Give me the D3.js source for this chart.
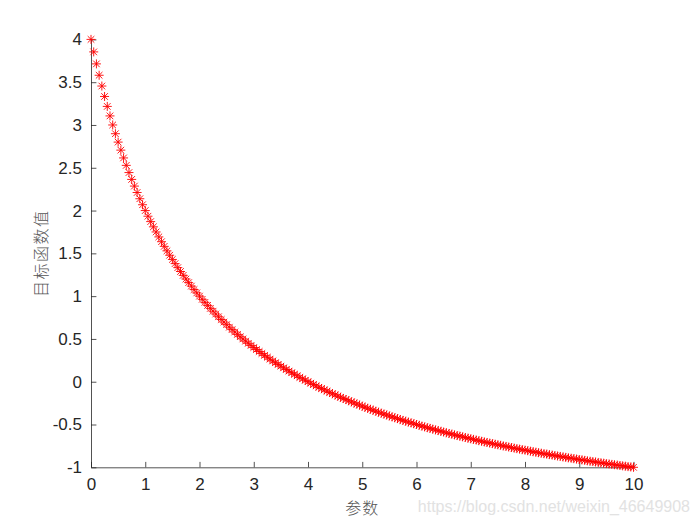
<!DOCTYPE html>
<html>
<head>
<meta charset="utf-8">
<script src="https://cdn.jsdelivr.net/npm/d3@7"></script>
<style>
  body { margin: 0; background: #fff; }
  .canvas svg { display: block; }
</style>
</head>
<body>
<div class="canvas"></div>
<script>
// data: parameter grid and objective values.
const xValues = [
  0, 0.05, 0.1, 0.15, 0.2, 0.25, 0.3, 0.35, 0.4, 0.45, 0.5, 0.55, 0.6, 0.65, 0.7, 0.75, 0.8, 0.85, 0.9, 0.95,
  1, 1.05, 1.1, 1.15, 1.2, 1.25, 1.3, 1.35, 1.4, 1.45, 1.5, 1.55, 1.6, 1.65, 1.7, 1.75, 1.8, 1.85, 1.9, 1.95,
  2, 2.05, 2.1, 2.15, 2.2, 2.25, 2.3, 2.35, 2.4, 2.45, 2.5, 2.55, 2.6, 2.65, 2.7, 2.75, 2.8, 2.85, 2.9, 2.95,
  3, 3.05, 3.1, 3.15, 3.2, 3.25, 3.3, 3.35, 3.4, 3.45, 3.5, 3.55, 3.6, 3.65, 3.7, 3.75, 3.8, 3.85, 3.9, 3.95,
  4, 4.05, 4.1, 4.15, 4.2, 4.25, 4.3, 4.35, 4.4, 4.45, 4.5, 4.55, 4.6, 4.65, 4.7, 4.75, 4.8, 4.85, 4.9, 4.95,
  5, 5.05, 5.1, 5.15, 5.2, 5.25, 5.3, 5.35, 5.4, 5.45, 5.5, 5.55, 5.6, 5.65, 5.7, 5.75, 5.8, 5.85, 5.9, 5.95,
  6, 6.05, 6.1, 6.15, 6.2, 6.25, 6.3, 6.35, 6.4, 6.45, 6.5, 6.55, 6.6, 6.65, 6.7, 6.75, 6.8, 6.85, 6.9, 6.95,
  7, 7.05, 7.1, 7.15, 7.2, 7.25, 7.3, 7.35, 7.4, 7.45, 7.5, 7.55, 7.6, 7.65, 7.7, 7.75, 7.8, 7.85, 7.9, 7.95,
  8, 8.05, 8.1, 8.15, 8.2, 8.25, 8.3, 8.35, 8.4, 8.45, 8.5, 8.55, 8.6, 8.65, 8.7, 8.75, 8.8, 8.85, 8.9, 8.95,
  9, 9.05, 9.1, 9.15, 9.2, 9.25, 9.3, 9.35, 9.4, 9.45, 9.5, 9.55, 9.6, 9.65, 9.7, 9.75, 9.8, 9.85, 9.9, 9.95,
  10
];
const yValues = [
  4, 3.854, 3.714, 3.581, 3.455, 3.333, 3.217, 3.106, 3, 2.898, 2.8, 2.706, 2.615, 2.528, 2.444, 2.364, 2.286, 2.211, 2.138, 2.068,
  2, 1.934, 1.871, 1.810, 1.75, 1.692, 1.636, 1.582, 1.529, 1.478, 1.429, 1.380, 1.333, 1.288, 1.243, 1.2, 1.158, 1.117, 1.077, 1.038,
  1, 0.963, 0.927, 0.892, 0.857, 0.824, 0.791, 0.759, 0.727, 0.697, 0.667, 0.637, 0.609, 0.581, 0.553, 0.526, 0.5, 0.474, 0.449, 0.424,
  0.4, 0.376, 0.353, 0.330, 0.308, 0.286, 0.264, 0.243, 0.222, 0.202, 0.182, 0.162, 0.143, 0.124, 0.105, 0.087, 0.069, 0.051, 0.034, 0.017,
  0, -0.017, -0.033, -0.049, -0.065, -0.08, -0.095, -0.110, -0.125, -0.140, -0.154, -0.168, -0.182, -0.195, -0.209, -0.222, -0.235, -0.248, -0.261, -0.273,
  -0.286, -0.298, -0.310, -0.322, -0.333, -0.345, -0.356, -0.367, -0.378, -0.389, -0.4, -0.411, -0.421, -0.431, -0.442, -0.452, -0.462, -0.471, -0.481, -0.491,
  -0.5, -0.509, -0.519, -0.528, -0.537, -0.545, -0.554, -0.563, -0.571, -0.580, -0.588, -0.596, -0.605, -0.613, -0.621, -0.629, -0.636, -0.644, -0.652, -0.659,
  -0.667, -0.674, -0.681, -0.689, -0.696, -0.703, -0.710, -0.717, -0.723, -0.730, -0.737, -0.743, -0.75, -0.756, -0.763, -0.769, -0.776, -0.782, -0.788, -0.794,
  -0.8, -0.806, -0.812, -0.818, -0.824, -0.829, -0.835, -0.841, -0.846, -0.852, -0.857, -0.863, -0.868, -0.873, -0.879, -0.884, -0.889, -0.894, -0.899, -0.904,
  -0.909, -0.914, -0.919, -0.924, -0.929, -0.933, -0.938, -0.943, -0.947, -0.952, -0.957, -0.961, -0.966, -0.970, -0.974, -0.979, -0.983, -0.987, -0.992, -0.996,
  -1
];
const xTicks = [0, 1, 2, 3, 4, 5, 6, 7, 8, 9, 10];
const yTicks = [-1, -0.5, 0, 0.5, 1, 1.5, 2, 2.5, 3, 3.5, 4];
const xLabel = '参数';
const yLabel = '目标函数值';
const watermark = 'https://blog.csdn.net/weixin_46649908';

// dimensions and margins (matlab default axes position).
const svgDimensions = { width: 700, height: 525 };
const margin = { left: 91, right: 66.5, top: 39.4, bottom: 57.7 };
const graphWidth = svgDimensions.width - margin.left - margin.right;
const graphHeight = svgDimensions.height - margin.top - margin.bottom;
const axisColor = '#262626';
const font = 'Arial, "Liberation Sans", Helvetica, sans-serif';

const svg = d3.select('.canvas')
    .append('svg')
        .attr('width', svgDimensions.width)
        .attr('height', svgDimensions.height);

const graph = svg.append('g')
    .attr('transform', `translate(${margin.left},${margin.top})`);

const x = d3.scaleLinear().domain([0, 10]).range([0, graphWidth]);
const y = d3.scaleLinear().domain([-1, 4]).range([graphHeight, 0]);

// plain hyphen for negatives, like matlab.
const tickFmt = v => String(v);

// axes with inward ticks, no box.
const xAxis = d3.axisBottom(x).tickValues(xTicks).tickSizeInner(-5.4).tickSizeOuter(0).tickPadding(11)
    .tickFormat(tickFmt);
const yAxis = d3.axisLeft(y).tickValues(yTicks).tickSizeInner(-5.4).tickSizeOuter(0).tickPadding(9)
    .tickFormat(tickFmt);

const xAxisGroup = graph.append('g')
    .attr('transform', `translate(0,${graphHeight})`)
    .call(xAxis);
const yAxisGroup = graph.append('g').call(yAxis);

[xAxisGroup, yAxisGroup].forEach(g => {
    g.select('.domain').attr('stroke', axisColor).attr('stroke-width', 0.8);
    g.selectAll('.tick line').attr('stroke', axisColor).attr('stroke-width', 0.8);
    g.selectAll('.tick text')
        .attr('fill', axisColor)
        .style('font-family', font)
        .style('font-size', '17px');
});

// asterisk marker: plus and cross together.
const r = 4.5, d = 3.3;
const asterisk = `M${-r},0L${r},0M0,${-r}L0,${r}M${-d},${-d}L${d},${d}M${-d},${d}L${d},${-d}`;

graph.append('g')
    .selectAll('path')
    .data(xValues.map((v, i) => ({ x: v, y: yValues[i] })))
    .enter()
    .append('path')
        .attr('transform', p => `translate(${x(p.x)},${y(p.y)})`)
        .attr('d', asterisk)
        .attr('fill', 'none')
        .attr('stroke', '#ff0000')
        .attr('stroke-width', 0.9);

// axis labels.
svg.append('text')
    .attr('x', margin.left + graphWidth / 2)
    .attr('y', 514)
    .attr('text-anchor', 'middle')
    .attr('fill', '#555')
    .style('font-family', '"Noto Sans CJK SC", sans-serif')
    .style('font-size', '16px')
    .style('font-weight', 300)
    .style('letter-spacing', '1px')
    .text(xLabel);

svg.append('text')
    .attr('transform', `translate(47,${margin.top + graphHeight / 2}) rotate(-90)`)
    .attr('text-anchor', 'middle')
    .attr('fill', '#555')
    .style('font-family', '"Noto Sans CJK SC", sans-serif')
    .style('font-size', '16px')
    .style('font-weight', 300)
    .style('letter-spacing', '1.5px')
    .text(yLabel);

// watermark.
svg.append('text')
    .attr('x', 690)
    .attr('y', 512)
    .attr('text-anchor', 'end')
    .attr('fill', '#e2e2e2')
    .style('font-family', font)
    .style('font-size', '16px')
    .text(watermark);
</script>
</body>
</html>
